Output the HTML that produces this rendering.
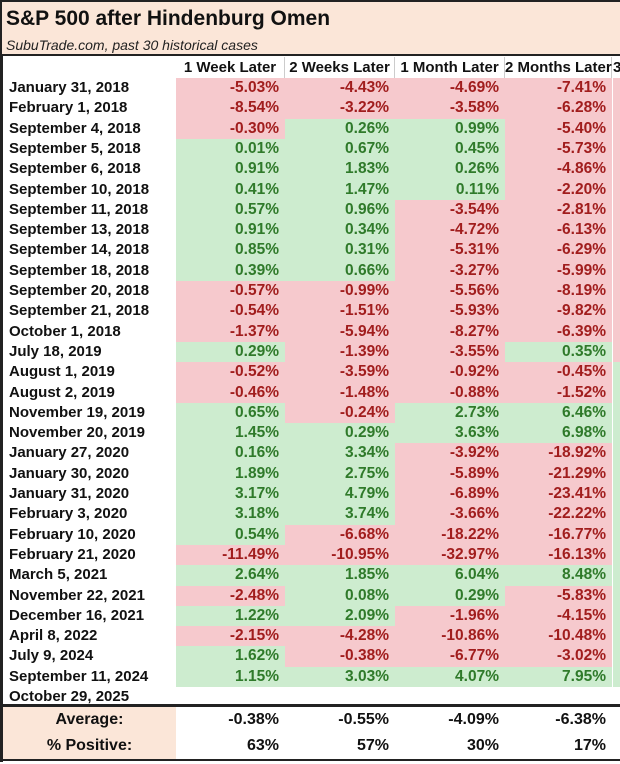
<!DOCTYPE html>
<html><head><meta charset="utf-8">
<style>
body{margin:0;width:620px;height:764px;background:#fff;overflow:hidden;font-family:"Liberation Sans",Arial,sans-serif;}
#wrap{position:relative;width:620px;height:764px;}
.abs{position:absolute;box-sizing:border-box;white-space:nowrap;}
.cell{font-weight:bold;font-size:15.5px;text-align:right;padding-right:6px;line-height:20.33px;}
.date{font-weight:bold;font-size:15px;line-height:20.33px;padding-left:6px;color:#111;}
.hdr{font-weight:bold;font-size:15px;text-align:center;line-height:21px;color:#111;border-right:1px solid #ccc;}
</style></head><body>
<div id="wrap">
  <div class="abs" style="left:0;top:0;width:620px;height:56px;background:#fbe6d8;border:2px solid #222;border-right:none;"></div>
  <div class="abs" style="left:6px;top:7px;font-size:21px;font-weight:bold;color:#111;">S&amp;P 500 after Hindenburg Omen</div>
  <div class="abs" style="left:6px;top:37px;font-size:14px;font-style:italic;color:#222;">SubuTrade.com, past 30 historical cases</div>
  <div class="abs" style="left:0;top:56px;width:3px;height:706px;background:#222;"></div>
  <div class="abs" style="left:0;top:704px;width:620px;height:3px;background:#222;"></div>
  <div class="abs" style="left:0;top:759px;width:620px;height:2px;background:#222;"></div>
  <div class="abs" style="left:3px;top:707px;width:173px;height:52px;background:#fbe6d8;"></div>
</div>
<script>
const dates=["January 31, 2018","February 1, 2018","September 4, 2018","September 5, 2018","September 6, 2018","September 10, 2018","September 11, 2018","September 13, 2018","September 14, 2018","September 18, 2018","September 20, 2018","September 21, 2018","October 1, 2018","July 18, 2019","August 1, 2019","August 2, 2019","November 19, 2019","November 20, 2019","January 27, 2020","January 30, 2020","January 31, 2020","February 3, 2020","February 10, 2020","February 21, 2020","March 5, 2021","November 22, 2021","December 16, 2021","April 8, 2022","July 9, 2024","September 11, 2024","October 29, 2025"];
const headers=["1 Week Later","2 Weeks Later","1 Month Later","2 Months Later"];
const week1=[-5.03,-8.54,-0.30,0.01,0.91,0.41,0.57,0.91,0.85,0.39,-0.57,-0.54,-1.37,0.29,-0.52,-0.46,0.65,1.45,0.16,1.89,3.17,3.18,0.54,-11.49,2.64,-2.48,1.22,-2.15,1.62,1.15];
const week2=[-4.43,-3.22,0.26,0.67,1.83,1.47,0.96,0.34,0.31,0.66,-0.99,-1.51,-5.94,-1.39,-3.59,-1.48,-0.24,0.29,3.34,2.75,4.79,3.74,-6.68,-10.95,1.85,0.08,2.09,-4.28,-0.38,3.03];
const month1=[-4.69,-3.58,0.99,0.45,0.26,0.11,-3.54,-4.72,-5.31,-3.27,-5.56,-5.93,-8.27,-3.55,-0.92,-0.88,2.73,3.63,-3.92,-5.89,-6.89,-3.66,-18.22,-32.97,6.04,0.29,-1.96,-10.86,-6.77,4.07];
const month2=[-7.41,-6.28,-5.40,-5.73,-4.86,-2.20,-2.81,-6.13,-6.29,-5.99,-8.19,-9.82,-6.39,0.35,-0.45,-1.52,6.46,6.98,-18.92,-21.29,-23.41,-22.22,-16.77,-16.13,8.48,-5.83,-4.15,-10.48,-3.02,7.95];
const averages=["-0.38%","-0.55%","-4.09%","-6.38%"];
const positives=["63%","57%","30%","17%"];
const series=[week1,week2,month1,month2];
const colX=[176,285,395,505,612];
const rowTop=78, rowH=20.3;
const wrap=document.getElementById('wrap');
function mk(cls,style,txt){const d=document.createElement('div');d.className='abs '+cls;d.setAttribute('style',style);if(txt!==undefined)d.textContent=txt;wrap.appendChild(d);return d;}
headers.forEach((h,i)=>{
  const d=mk('hdr',`left:${colX[i]}px;top:57px;width:${colX[i+1]-colX[i]}px;height:21px;`,h);
  
  
});
const h3=mk('hdr',`left:612px;top:57px;width:20px;height:21px;text-align:left;padding-left:1px;border:none;`,'3');


series.forEach((s,c)=>{
  s.forEach((v,r)=>{
    const y=rowTop+r*rowH;
    const pos=v>=0;
    const d=mk('cell',`left:${colX[c]}px;top:${y}px;width:${colX[c+1]-colX[c]}px;height:${rowH+0.5}px;background:${pos?'#cdeccf':'#f6c9cd'};color:${pos?'#2f7a2a':'#a11d1d'};`,v.toFixed(2)+'%');
    
    
  });
});
for(let r=0;r<30;r++){
  const y=rowTop+r*rowH;
  const d=mk('',`left:613px;top:${y}px;width:7px;height:${rowH+0.5}px;background:${r<=13?'#f6c9cd':'#cdeccf'};`);
  
  
}
dates.forEach((dt,r)=>{
  const y=rowTop+r*rowH;
  const d=mk('date',`left:3px;top:${y}px;width:173px;height:${rowH}px;`,dt);
  
  
});
const la=mk('',`left:3px;top:707px;width:173px;height:26px;text-align:center;font-weight:bold;font-size:16px;line-height:26px;color:#111;`,'Average:');


const lp=mk('',`left:3px;top:733px;width:173px;height:26px;text-align:center;font-weight:bold;font-size:16px;line-height:26px;color:#111;`,'% Positive:');


averages.forEach((a,i)=>{
  const d=mk('cell',`left:${colX[i]}px;top:707px;width:${colX[i+1]-colX[i]}px;height:26px;line-height:26px;font-size:16px;color:#111;`,a);
  
  
});
positives.forEach((a,i)=>{
  const d=mk('cell',`left:${colX[i]}px;top:733px;width:${colX[i+1]-colX[i]}px;height:26px;line-height:26px;font-size:16px;color:#111;`,a);
  
  
});
</script>
</body></html>
